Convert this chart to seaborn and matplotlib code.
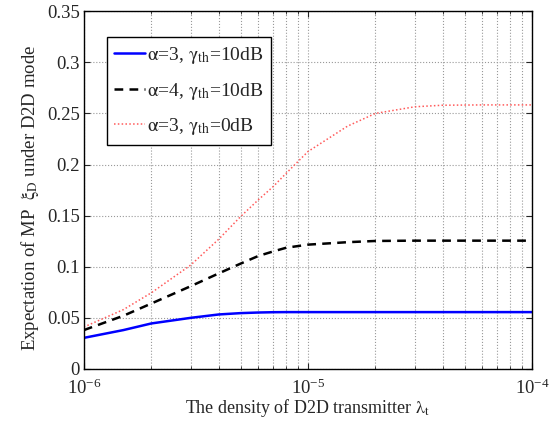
import numpy as np
import pandas as pd
import matplotlib
matplotlib.use('Agg')
import matplotlib.pyplot as plt
import seaborn as sns
from matplotlib.ticker import LogLocator

# values
density = [1e-6, 1.5e-6, 2e-6, 3e-6, 4e-6, 5e-6, 6e-6, 7e-6, 8e-6, 1e-5,
           1.5e-5, 2e-5, 3e-5, 4e-5, 6e-5, 1e-4]
mp_a3_10db = [0.0304, 0.038, 0.0445, 0.050, 0.0533, 0.0546, 0.0552, 0.0555, 0.0556, 0.0556,
              0.0556, 0.0556, 0.0556, 0.0556, 0.0556, 0.0556]
mp_a4_10db = [0.038, 0.052, 0.064, 0.081, 0.0935, 0.103, 0.1105, 0.115, 0.1186, 0.1216,
              0.124, 0.1252, 0.1255, 0.1255, 0.1255, 0.1255]
mp_a3_0db = [0.041, 0.058, 0.0745, 0.1017, 0.127, 0.149, 0.1654, 0.1785, 0.1915, 0.2127,
             0.2375, 0.250, 0.2565, 0.258, 0.2583, 0.2583]
labels = [r'$\mathrm{\alpha}$=3, $\mathrm{\gamma_{th}}$=10dB',
          r'$\mathrm{\alpha}$=4, $\mathrm{\gamma_{th}}$=10dB',
          r'$\mathrm{\alpha}$=3, $\mathrm{\gamma_{th}}$=0dB']
yticks = [0, 0.05, 0.1, 0.15, 0.2, 0.25, 0.3, 0.35]
ytick_labels = ['0', '0.05', '0.1', '0.15', '0.2', '0.25', '0.3', '0.35']

sns.set_style('ticks')
plt.rcParams['font.family'] = ['Liberation Serif', 'DejaVu Serif']
plt.rcParams['mathtext.fontset'] = 'stix'

fig = plt.figure(figsize=(5.59, 4.30), dpi=100)
ax = fig.add_axes([0.150, 0.142, 0.802, 0.832])

sns.lineplot(x=density, y=mp_a3_10db, ax=ax, color='#0000ff', linewidth=1.8, label=labels[0])
sns.lineplot(x=density, y=mp_a4_10db, ax=ax, color='black', linewidth=1.8,
             linestyle=(0, (3.5, 2.5)), label=labels[1])
sns.lineplot(x=density, y=mp_a3_0db, ax=ax, color='#ff5a5a', linewidth=1.1,
             linestyle=(0, (1, 1.5)), label=labels[2])

ax.set_xscale('log')
ax.set_xlim(1e-6, 1e-4)
ax.set_ylim(0, 0.35)
ax.set_yticks(yticks)
ax.set_yticklabels(ytick_labels)
ax.xaxis.set_minor_locator(LogLocator(base=10, subs=np.arange(2, 10)))

ax.grid(True, which='major', color='#999999', linestyle=':', linewidth=0.8)
ax.grid(True, which='minor', axis='x', color='#999999', linestyle=':', linewidth=0.8)
ax.tick_params(which='both', direction='in', top=True, right=True, labelsize=13.5)
ax.tick_params(which='major', length=4, width=0.8)
ax.tick_params(which='minor', length=2, width=0.6)
ax.tick_params(axis='x', which='major', pad=7)
ax.tick_params(axis='y', which='major', pad=3)
for s in ax.spines.values():
    s.set_linewidth(1.0)
    s.set_color('black')

ax.set_xlabel(r'The density of D2D transmitter $\mathrm{\lambda_t}$', fontsize=13, labelpad=-1)
ax.set_ylabel(r'Expectation of MP  $\mathrm{\xi_D}$ under D2D mode', fontsize=13.5, labelpad=4)
ax.yaxis.label.set_y(0.478)

leg = ax.legend(loc='upper left', bbox_to_anchor=(0.051, 0.927), borderaxespad=0,
                fontsize=14, fancybox=False, framealpha=1, edgecolor='black',
                handlelength=1.55, handletextpad=0.1, labelspacing=0.75, borderpad=0.4)
leg.get_frame().set_linewidth(1.0)

fig.savefig('out.png', dpi=100)
